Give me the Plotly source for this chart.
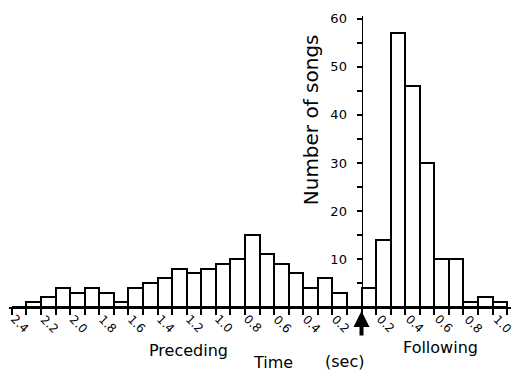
import plotly.graph_objects as go

# Bin start times (sec) relative to the reference event (negative = preceding)
bin_starts = [-2.4, -2.3, -2.2, -2.1, -2.0, -1.9, -1.8, -1.7, -1.6, -1.5, -1.4, -1.3,
              -1.2, -1.1, -1.0, -0.9, -0.8, -0.7, -0.6, -0.5, -0.4, -0.3, -0.2, -0.1,
              0.0, 0.1, 0.2, 0.3, 0.4, 0.5, 0.6, 0.7, 0.8, 0.9]
song_counts = [0, 1, 2, 4, 3, 4, 3, 1, 4, 5, 6, 8,
               7, 8, 9, 10, 15, 11, 9, 7, 4, 6, 3, 0,
               4, 14, 57, 46, 30, 10, 10, 1, 2, 1]
bin_width = 0.1

preceding_ticks = [-2.4, -2.2, -2.0, -1.8, -1.6, -1.4, -1.2, -1.0, -0.8, -0.6, -0.4, -0.2]
preceding_labels = ["2.4", "2.2", "2.0", "1.8", "1.6", "1.4", "1.2", "1.0", "0.8", "0.6", "0.4", "0.2"]
following_ticks = [0.2, 0.4, 0.6, 0.8, 1.0]
following_labels = ["0.2", "0.4", "0.6", "0.8", "1.0"]
minor_x_ticks = [round(-2.4 + 0.1 * i, 1) for i in range(35)]
y_tickvals = [10, 20, 30, 40, 50, 60]
y_ticktext = ["10", "20", "30", "40", "50", "60"]

FONT = "DejaVu Sans"

centers = [s + bin_width / 2 for s in bin_starts]

fig = go.Figure()
fig.add_trace(go.Bar(
    x=centers, y=song_counts, width=bin_width,
    marker=dict(color="white", line=dict(color="black", width=2)),
    showlegend=False, hoverinfo="skip",
))

annotations = []
for v, t in zip(preceding_ticks, preceding_labels):
    annotations.append(dict(x=v, xref="x", y=0, yref="paper", text=t, showarrow=False,
                            textangle=45, xanchor="center", yanchor="middle",
                            xshift=8, yshift=-17,
                            font=dict(family=FONT, size=12, color="black")))
for v, t in zip(following_ticks, following_labels):
    annotations.append(dict(x=v, xref="x", y=0, yref="paper", text=t, showarrow=False,
                            textangle=45, xanchor="center", yanchor="middle",
                            xshift=-5, yshift=-17,
                            font=dict(family=FONT, size=12, color="black")))

# event arrow at time zero
annotations.append(dict(x=0, xref="x", y=0, yref="paper", text="", showarrow=True,
                        arrowhead=2, arrowsize=0.8, arrowwidth=4, arrowcolor="black",
                        ax=0, ay=30, standoff=4))

annotations += [
    dict(x=-1.19, xref="x", y=0, yref="paper", yshift=-43, text="Preceding", showarrow=False,
         xanchor="center", yanchor="middle",
         font=dict(family=FONT, size=16, color="black")),
    dict(x=0.54, xref="x", y=0, yref="paper", yshift=-40, text="Following", showarrow=False,
         xanchor="center", yanchor="middle",
         font=dict(family=FONT, size=16, color="black")),
    dict(x=-0.61, xref="x", y=0, yref="paper", yshift=-55, text="Time", showarrow=False,
         xanchor="center", yanchor="middle",
         font=dict(family=FONT, size=16, color="black")),
    dict(x=-0.12, xref="x", y=0, yref="paper", yshift=-54, text="(sec)", showarrow=False,
         xanchor="center", yanchor="middle",
         font=dict(family=FONT, size=16, color="black")),
    dict(x=-0.35, xref="x", y=39.0, yref="y", text="Number of songs", showarrow=False,
         xanchor="center", yanchor="middle",
         textangle=-90, font=dict(family=FONT, size=20, color="black")),
]

fig.update_layout(
    width=511, height=364,
    margin=dict(l=1, r=6, t=8, b=65),
    paper_bgcolor="white", plot_bgcolor="white",
    bargap=0,
    annotations=annotations,
    xaxis=dict(
        range=[-2.42, 1.04], showgrid=False, zeroline=False,
        showline=True, linecolor="black", linewidth=2,
        tickmode="array", tickvals=minor_x_ticks, showticklabels=False,
        ticks="outside", ticklen=6, tickwidth=1.5, tickcolor="black",
    ),
    yaxis=dict(
        range=[0, 60.6], anchor="free", position=(0 + 2.42) / 3.46,
        showgrid=False, zeroline=False,
        showline=True, linecolor="black", linewidth=1,
        tickmode="array", tickvals=y_tickvals, ticktext=y_ticktext,
        ticks="outside", ticklen=5, tickwidth=1.5, tickcolor="black",
        minor=dict(tickvals=[5, 15, 25, 35, 45, 55], ticks="outside", ticklen=5,
                   tickwidth=1.5, tickcolor="black"),
        ticklabelstandoff=7,
        tickfont=dict(family=FONT, size=13, color="black"),
    ),
)

fig.write_html("out.html")
